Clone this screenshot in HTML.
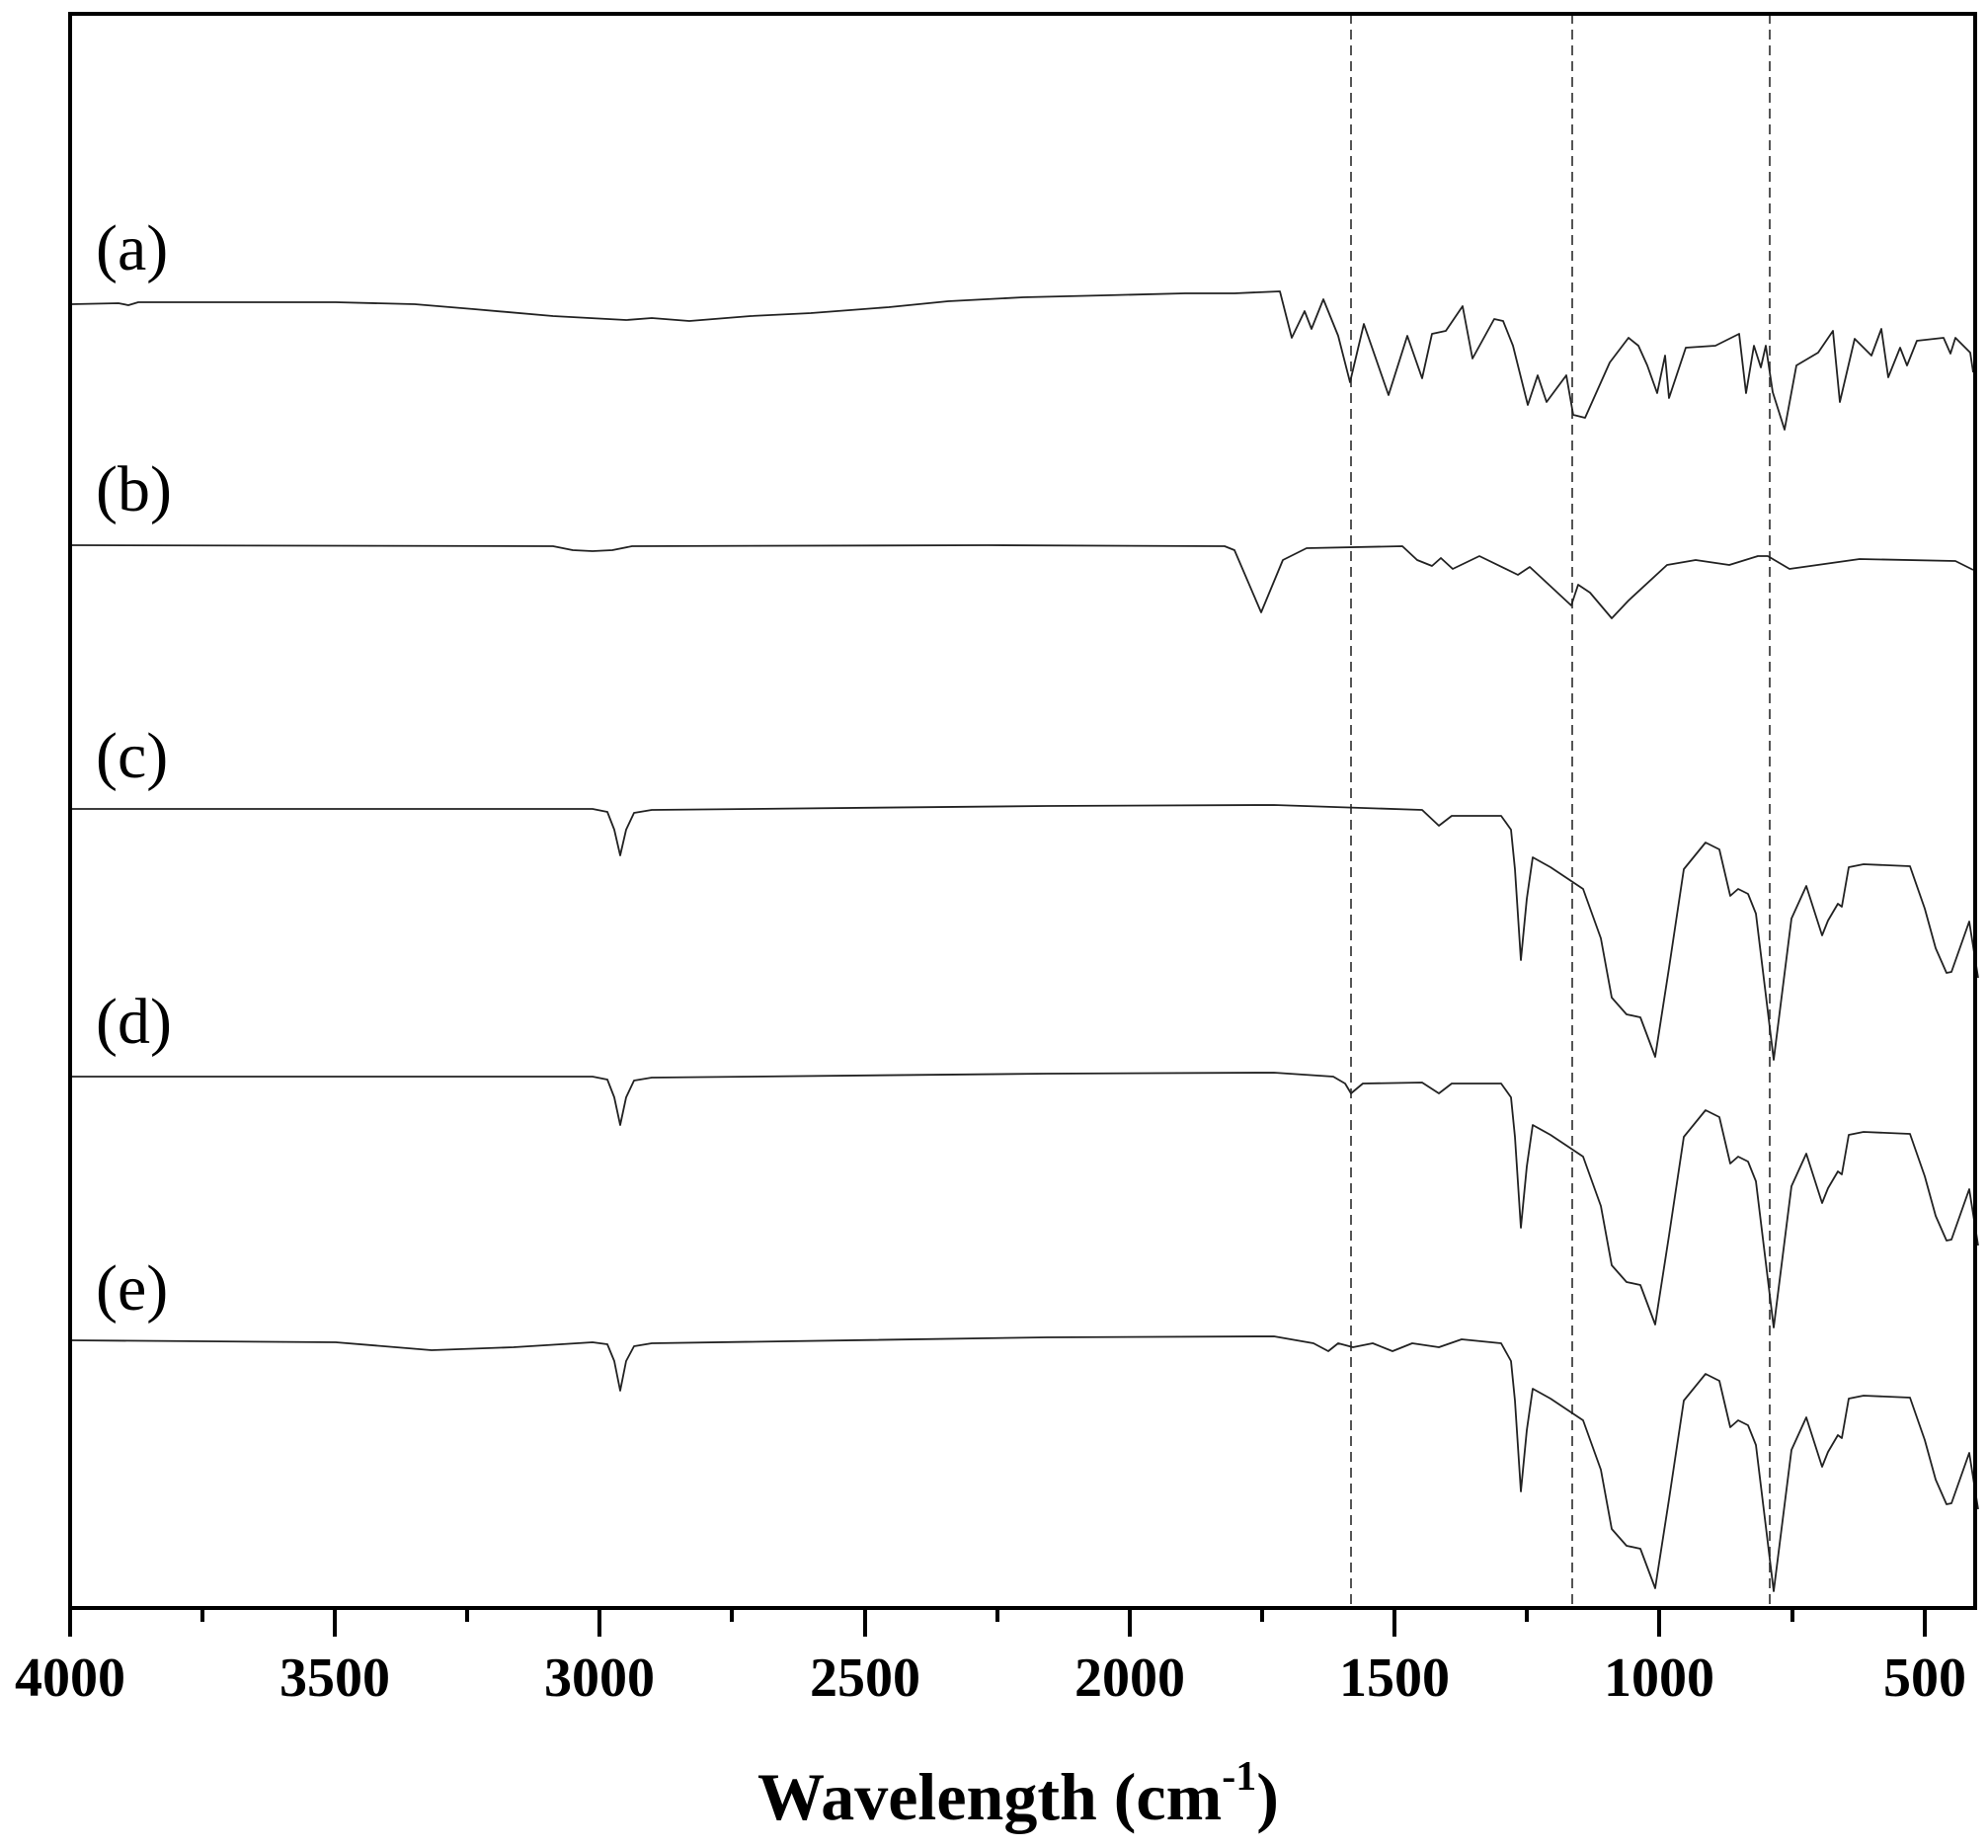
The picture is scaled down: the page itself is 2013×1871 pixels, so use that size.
<!DOCTYPE html>
<html><head><meta charset="utf-8"><style>html,body{margin:0;padding:0;background:#fff}</style></head>
<body>
<svg width="2013" height="1866" viewBox="0 0 2013 1866" xmlns="http://www.w3.org/2000/svg">
<rect x="0" y="0" width="2013" height="1866" fill="#fff"/>
<g stroke="#555" stroke-width="2" stroke-dasharray="10,6" fill="none">
<line x1="1368" y1="14" x2="1368" y2="1627"/>
<line x1="1592" y1="14" x2="1592" y2="1627"/>
<line x1="1792" y1="14" x2="1792" y2="1627"/>
</g>
<g fill="none" stroke="#222" stroke-width="1.8" stroke-linejoin="round">
<!-- (a) -->
<path d="M72,308 L120,307 L130,309 L140,306 L340,306 L420,308 L480,313 L560,320 L634,324 L660,322 L698,325 L760,320 L821,317 L900,311 L960,305 L1036,301 L1120,299 L1200,297 L1250,297 L1296,295 L1308,342 L1321,315 L1328,333 L1340,303 L1355,340 L1367,387 L1381,328 L1406,400 L1425,340 L1440,383 L1450,338 L1464,335 L1481,310 L1491,363 L1513,323 L1522,325 L1532,350 L1547,410 L1557,380 L1566,407 L1586,380 L1593,420 L1605,423 L1630,367 L1649,342 L1659,350 L1668,370 L1678,398 L1686,360 L1690,403 L1707,352 L1737,350 L1761,338 L1768,398 L1776,350 L1783,372 L1788,350 L1795,397 L1807,435 L1819,370 L1841,357 L1856,335 L1863,407 L1878,343 L1895,360 L1905,333 L1912,382 L1924,352 L1931,370 L1941,345 L1968,342 L1975,358 L1980,342 L1995,357 L1998,377"/>
<!-- (b) -->
<path d="M72,552 L560,553 L580,557 L600,558 L620,557 L640,553 L1000,552 L1240,553 L1250,557 L1277,620 L1299,567 L1323,555 L1420,553 L1435,567 L1450,573 L1459,565 L1471,576 L1498,563 L1537,582 L1549,574 L1591,613 L1598,592 L1610,600 L1632,626 L1649,608 L1688,572 L1717,567 L1751,572 L1780,563 L1790,563 L1812,576 L1883,566 L1980,568 L1998,577"/>
<!-- (c) -->
<path id="cs" d="M72,819 L600,819 L615,822 L622,840 L628,866 L634,840 L642,823 L660,820 L1060,816 L1290,815 L1440,820 L1457,836 L1470,826 L1520,826 L1530,840 L1534,880 L1540,972 L1546,910 L1552,868 L1570,878 L1603,900 L1621,950 L1632,1010 L1647,1027 L1661,1030 L1676,1070 L1690,980 L1705,880 L1727,853 L1741,860 L1752,907 L1760,900 L1770,905 L1778,925 L1796,1073 L1814,930 L1829,897 L1845,947 L1851,932 L1861,915 L1865,918 L1872,878 L1887,875 L1934,877 L1949,920 L1960,960 L1971,985 L1976,984 L1994,933 L2003,990"/>
<!-- (d) -->
<path transform="translate(0,271)" d="M72,819 L600,819 L615,822 L622,840 L628,868 L634,840 L642,823 L660,820 L1060,816 L1290,815 L1350,819 L1362,826 L1368,836 L1380,826 L1440,825 L1457,836 L1470,826 L1520,826 L1530,840 L1534,880 L1540,972 L1546,910 L1552,868 L1570,878 L1603,900 L1621,950 L1632,1010 L1647,1027 L1661,1030 L1676,1070 L1690,980 L1705,880 L1727,853 L1741,860 L1752,907 L1760,900 L1770,905 L1778,925 L1796,1073 L1814,930 L1829,897 L1845,947 L1851,932 L1861,915 L1865,918 L1872,878 L1887,875 L1934,877 L1949,920 L1960,960 L1971,985 L1976,984 L1994,933 L2003,990"/>
<!-- (e) -->
<path transform="translate(0,538)" d="M72,819 L340,821 L437,829 L520,826 L600,821 L615,823 L622,840 L628,870 L634,840 L642,825 L660,822 L1060,816 L1290,815 L1330,822 L1345,830 L1355,822 L1370,826 L1390,822 L1410,830 L1430,822 L1457,826 L1480,818 L1520,822 L1530,840 L1534,880 L1540,972 L1546,910 L1552,868 L1570,878 L1603,900 L1621,950 L1632,1010 L1647,1027 L1661,1030 L1676,1070 L1690,980 L1705,880 L1727,853 L1741,860 L1752,907 L1760,900 L1770,905 L1778,925 L1796,1073 L1814,930 L1829,897 L1845,947 L1851,932 L1861,915 L1865,918 L1872,878 L1887,875 L1934,877 L1949,920 L1960,960 L1971,985 L1976,984 L1994,933 L2003,990"/>
</g>
<rect x="71" y="14" width="1929" height="1614" fill="none" stroke="#000" stroke-width="4"/>
<g stroke="#000" stroke-width="4">
<line x1="71" y1="1628" x2="71" y2="1657"/>
<line x1="339" y1="1628" x2="339" y2="1657"/>
<line x1="607" y1="1628" x2="607" y2="1657"/>
<line x1="876" y1="1628" x2="876" y2="1657"/>
<line x1="1144" y1="1628" x2="1144" y2="1657"/>
<line x1="1412" y1="1628" x2="1412" y2="1657"/>
<line x1="1680" y1="1628" x2="1680" y2="1657"/>
<line x1="1949" y1="1628" x2="1949" y2="1657"/>
<line x1="205" y1="1628" x2="205" y2="1642"/>
<line x1="473" y1="1628" x2="473" y2="1642"/>
<line x1="741" y1="1628" x2="741" y2="1642"/>
<line x1="1010" y1="1628" x2="1010" y2="1642"/>
<line x1="1278" y1="1628" x2="1278" y2="1642"/>
<line x1="1546" y1="1628" x2="1546" y2="1642"/>
<line x1="1815" y1="1628" x2="1815" y2="1642"/>
</g>
<g font-family="Liberation Serif, serif" font-weight="bold" font-size="56" text-anchor="middle" fill="#000">
<text x="71" y="1717">4000</text>
<text x="339" y="1717">3500</text>
<text x="607" y="1717">3000</text>
<text x="876" y="1717">2500</text>
<text x="1144" y="1717">2000</text>
<text x="1412" y="1717">1500</text>
<text x="1680" y="1717">1000</text>
<text x="1949" y="1717">500</text>
</g>
<text x="767" y="1842" font-family="Liberation Serif, serif" font-weight="bold" font-size="68" fill="#000">Wavelength (cm<tspan font-size="42" dy="-30">-1</tspan><tspan dy="30">)</tspan></text>
<g font-family="Liberation Serif, serif" font-size="66" fill="#000">
<text x="97" y="273">(a)</text>
<text x="97" y="517">(b)</text>
<text x="97" y="787">(c)</text>
<text x="97" y="1056">(d)</text>
<text x="97" y="1326">(e)</text>
</g>
</svg>
</body></html>
